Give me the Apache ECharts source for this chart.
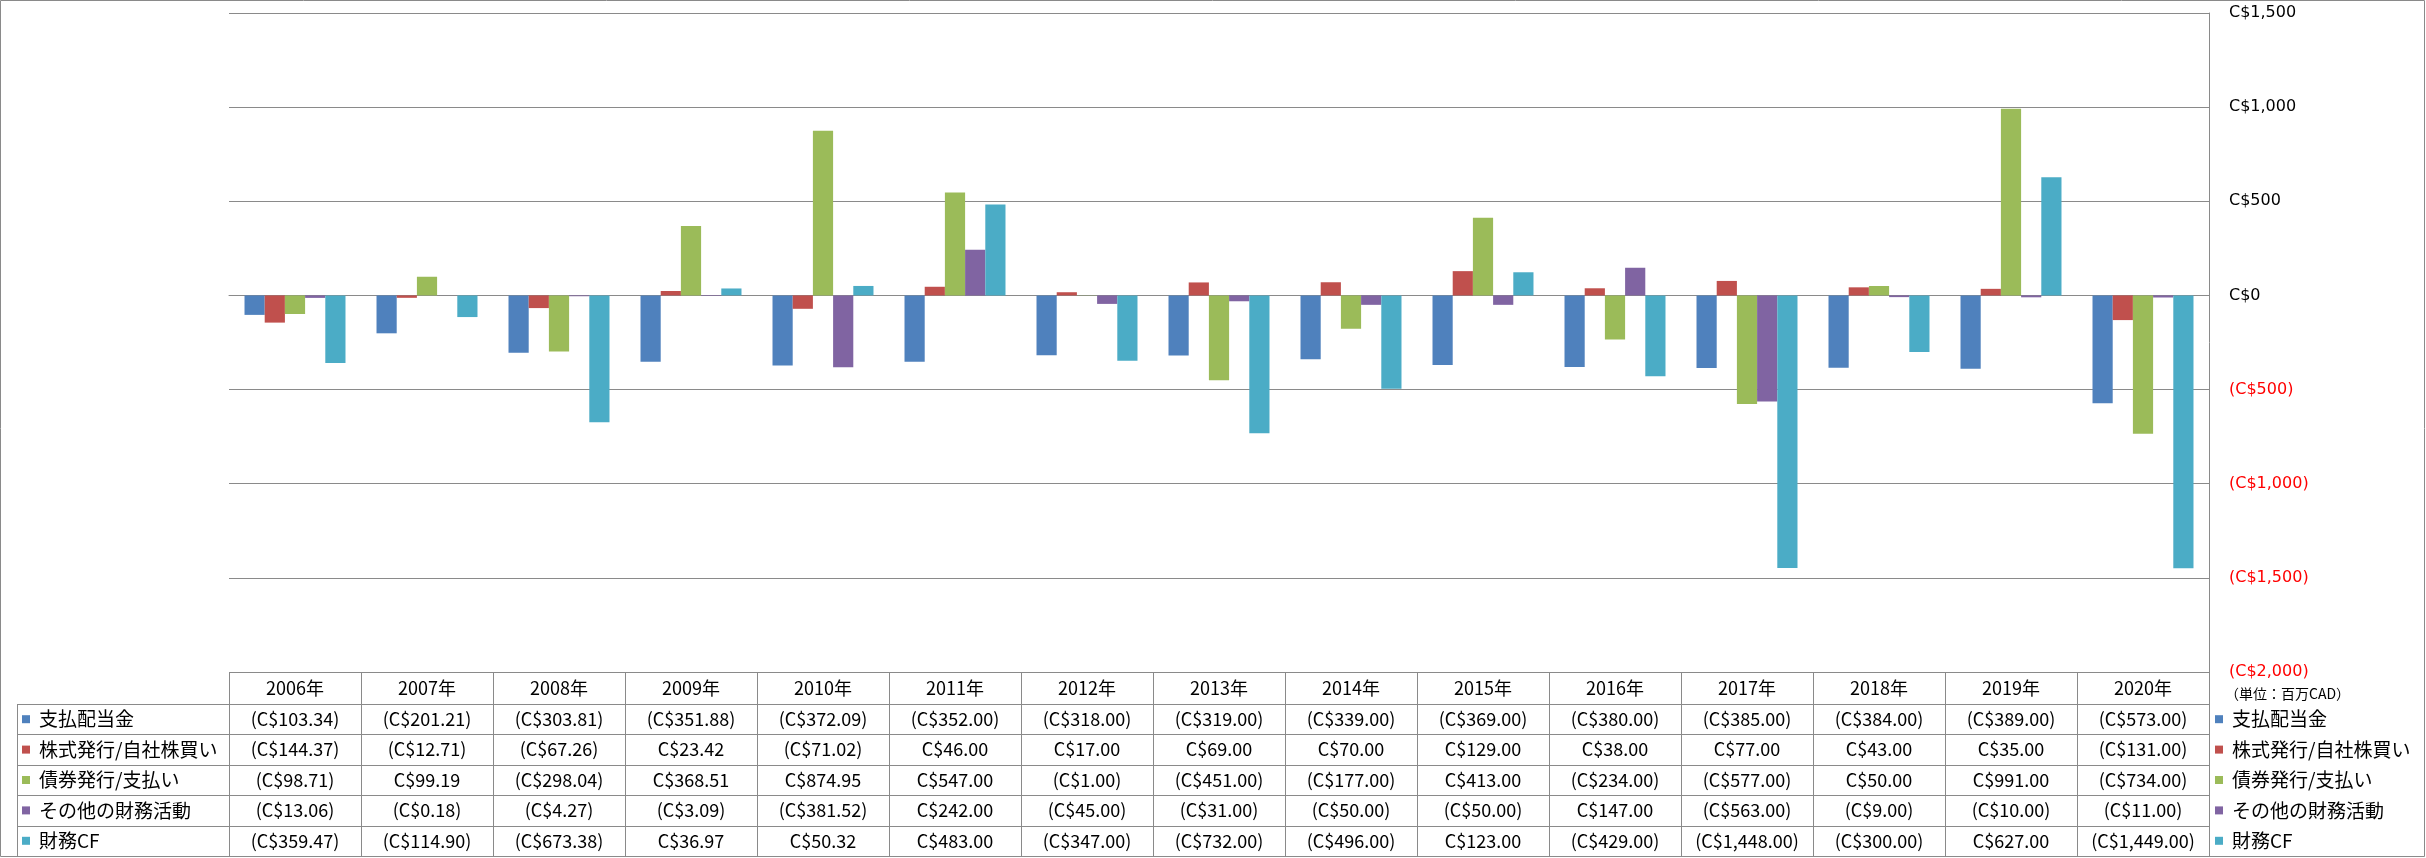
<!DOCTYPE html>
<html><head><meta charset="utf-8">
<script src="https://cdn.jsdelivr.net/npm/echarts@6/dist/echarts.min.js"></script>
<style>html,body{margin:0;padding:0;background:#fff}#c{width:2426px;height:858px}</style>
</head><body><div id="c"></div>
<script>
const years = ['2006年','2007年','2008年','2009年','2010年','2011年','2012年','2013年','2014年','2015年','2016年','2017年','2018年','2019年','2020年'];
const seriesNames = ['支払配当金','株式発行/自社株買い','債券発行/支払い','その他の財務活動','財務CF'];
const dividends = [-103.34,-201.21,-303.81,-351.88,-372.09,-352,-318,-319,-339,-369,-380,-385,-384,-389,-573];
const stockIssue = [-144.37,-12.71,-67.26,23.42,-71.02,46,17,69,70,129,38,77,43,35,-131];
const debtIssue = [-98.71,99.19,-298.04,368.51,874.95,547,-1,-451,-177,413,-234,-577,50,991,-734];
const otherFin = [-13.06,-0.18,-4.27,-3.09,-381.52,242,-45,-31,-50,-50,147,-563,-9,-10,-11];
const financeCF = [-359.47,-114.90,-673.38,36.97,50.32,483,-347,-732,-496,123,-429,-1448,-300,627,-1449];
const colors = ['#4F81BD','#C0504D','#9BBB59','#8064A2','#4BACC6'];
const yTicks = {min:-2000, max:1500, interval:500};
const unitLabel = '（単位：百万CAD）';

const allSeries = [dividends, stockIssue, debtIssue, otherFin, financeCF];
const LINE = '#8a8a8a';
const FONT = '"Noto Sans CJK JP", "Noto Sans", sans-serif';

function fmt(v, dec) {
  const a = Math.abs(v).toLocaleString('en-US', {minimumFractionDigits: dec, maximumFractionDigits: dec});
  return v < 0 ? '(C$' + a + ')' : 'C$' + a;
}

const chart = echarts.init(document.getElementById('c'));
const GRID = {left: 229, right: 217, top: 13, bottom: 186};
chart.setOption({
  animation: false,
  grid: GRID,
  xAxis: {
    type: 'category', data: years,
    axisLine: {show: true, lineStyle: {color: LINE}},
    axisTick: {show: false}, axisLabel: {show: false}
  },
  yAxis: {
    type: 'value', position: 'right', min: yTicks.min, max: yTicks.max, interval: yTicks.interval,
    axisLine: {show: true, lineStyle: {color: LINE}},
    axisTick: {show: false},
    splitLine: {lineStyle: {color: LINE}},
    axisLabel: {
      margin: 20, fontFamily: '"DejaVu Sans", sans-serif', fontSize: 16, color: '#000',
      formatter: v => v < 0 ? '{n|' + fmt(v, 0) + '}' : fmt(v, 0),
      rich: {n: {color: '#FF0000', fontFamily: '"DejaVu Sans", sans-serif', fontSize: 16}}
    }
  },
  series: allSeries.map((d, i) => ({
    name: seriesNames[i], type: 'bar', data: d,
    itemStyle: {color: colors[i]},
    barGap: '0%', barCategoryGap: '23.5%'
  }))
});

// Data table drawn with graphic elements, positioned via the category axis
const g = [];
const c0 = chart.convertToPixel({xAxisIndex: 0}, 0);
const c1 = chart.convertToPixel({xAxisIndex: 0}, 1);
const bw = c1 - c0;
const tableLeft = c0 - bw / 2;
const tableRight = chart.convertToPixel({xAxisIndex: 0}, years.length - 1) + bw / 2;
const headTop = chart.convertToPixel({yAxisIndex: 0}, yTicks.min);
const headBottom = 704;
const tableBottom = 856;
const rowH = (tableBottom - headBottom) / seriesNames.length;
const labelLeft = 17;
function hline(x1, x2, y) { g.push({type: 'line', shape: {x1: x1, y1: Math.round(y) + 0.5, x2: x2, y2: Math.round(y) + 0.5}, style: {stroke: LINE, lineWidth: 1}, silent: true}); }
function vline(x, y1, y2) { g.push({type: 'line', shape: {x1: Math.round(x) + 0.5, y1: y1, x2: Math.round(x) + 0.5, y2: y2}, style: {stroke: LINE, lineWidth: 1}, silent: true}); }
function txt(x, y, s, opts) {
  g.push({type: 'text', x: x, y: y, silent: true, style: Object.assign({text: s, fill: '#000', font: '18px ' + FONT, textAlign: 'center', textVerticalAlign: 'middle'}, opts || {})});
}
// header row
hline(tableLeft, tableRight, headBottom);
for (let i = 0; i <= years.length; i++) vline(tableLeft + i * bw, headTop, tableBottom);
years.forEach((y, i) => txt(tableLeft + (i + 0.5) * bw, (headTop + headBottom) / 2, y));
// data rows
vline(labelLeft, headBottom, tableBottom);
hline(labelLeft, tableLeft, headBottom);
for (let r = 0; r < seriesNames.length; r++) {
  const yb = headBottom + (r + 1) * rowH;
  hline(labelLeft, tableRight, yb);
  const yc = headBottom + (r + 0.5) * rowH;
  g.push({type: 'rect', shape: {x: labelLeft + 5, y: yc - 4, width: 8, height: 8}, style: {fill: colors[r]}, silent: true});
  txt(labelLeft + 22, yc, seriesNames[r], {textAlign: 'left', font: '19px ' + FONT});
  allSeries[r].forEach((v, i) => txt(tableLeft + (i + 0.5) * bw, yc, fmt(v, 2)));
  // right legend
  g.push({type: 'rect', shape: {x: tableRight + 6, y: yc - 4, width: 8, height: 8}, style: {fill: colors[r]}, silent: true});
  txt(tableRight + 23, yc, seriesNames[r], {textAlign: 'left', font: '19px ' + FONT});
}
txt(tableRight + 16, 694, unitLabel, {textAlign: 'left', font: '14px ' + FONT});
// outer border
g.push({type: 'rect', shape: {x: 0.5, y: 0.5, width: 2424, height: 856}, style: {fill: 'none', stroke: LINE, lineWidth: 1}, silent: true});
chart.setOption({graphic: g});
</script></body></html>
